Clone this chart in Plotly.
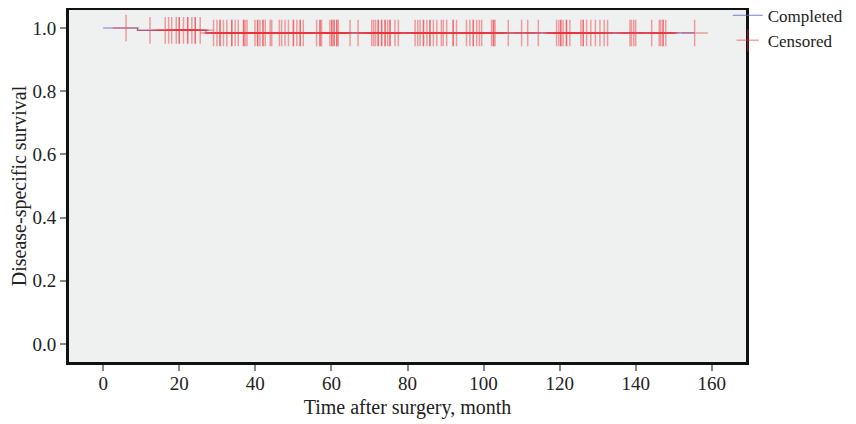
import numpy as np
import plotly.graph_objects as go

# Event (death) times, months
event_times = [9.0, 27.0]
# Censored times, months
censored_times = [
    6.0, 12.3, 16.3, 17.2, 18.0, 19.2, 20.0, 20.0, 21.1, 22.2, 22.2,
    23.3, 24.2, 24.2, 25.5, 29.0, 29.9, 30.7, 30.7, 31.6, 32.5, 33.8, 33.8,
    34.7, 35.5, 36.9, 36.9, 37.3, 37.8, 39.9, 40.6, 40.6, 41.2, 42.0, 42.0,
    42.6, 43.9, 44.3, 46.3, 46.9, 47.8, 48.7, 50.0, 50.0, 50.9, 51.8, 51.8,
    52.6, 56.1, 57.0, 57.0, 57.4, 59.6, 60.1, 60.1, 60.7, 60.7, 61.4, 61.4,
    61.8, 64.9, 67.0, 70.6, 71.1, 71.6, 72.3, 72.3, 73.2, 73.2, 74.1, 74.1,
    74.8, 75.4, 75.4, 76.7, 77.6, 82.0, 82.7, 83.3, 84.2, 84.2, 85.1, 85.9,
    85.9, 86.8, 87.7, 88.9, 89.4, 90.3, 92.0, 92.0, 92.9, 95.5, 96.4, 97.3,
    97.3, 98.2, 98.9, 99.5, 102.1, 102.6, 102.6, 103.0, 106.5, 110.0,
    111.6, 114.4, 119.2, 119.8, 120.3, 120.3, 120.9, 121.8, 121.8, 122.7,
    125.6, 126.2, 126.2, 127.1, 128.2, 129.4, 130.6, 131.7, 132.6,
    138.5, 138.9, 139.5, 140.0, 144.2, 146.2, 146.6, 147.2, 147.2, 147.9,
    155.5,
]

x_ticks = [0, 20, 40, 60, 80, 100, 120, 140, 160]
y_ticks = [0.0, 0.2, 0.4, 0.6, 0.8, 1.0]
y_tick_labels = ["0.0", "0.2", "0.4", "0.6", "0.8", "1.0"]

# Kaplan-Meier estimate
ev = np.array(event_times)
ce = np.array(censored_times)
times_all = np.unique(np.concatenate([[0.0], ev, ce]))
surv = []
s = 1.0
for t in times_all:
    at_risk = np.sum(ev >= t) + np.sum(ce >= t)
    d = np.sum(ev == t)
    if at_risk > 0 and d > 0:
        s *= (1 - d / at_risk)
    surv.append(s)
surv = np.array(surv)

def s_at(t):
    idx = np.searchsorted(times_all, t, side="right") - 1
    return surv[idx]

cens_y = [s_at(t) for t in censored_times]

fig = go.Figure()
fig.add_trace(go.Scatter(
    x=times_all, y=surv, mode="lines", line_shape="hv",
    line=dict(color="rgba(95,105,200,0.85)", width=1.2),
    name="Completed",
))
fig.add_trace(go.Scatter(
    x=censored_times, y=cens_y, mode="markers",
    marker=dict(symbol="cross-thin", size=19,
                line=dict(color="rgba(238,50,55,0.45)", width=1.5)),
    name="Censored",
))

# The page body has an 8px margin, so the figure is sized 848x416 and margins
# are reduced on the left/top accordingly.
font_family = "Liberation Serif, Times New Roman, serif"
fig.update_layout(
    width=848, height=416,
    margin=dict(l=61, r=110, t=2, b=62, autoexpand=False),
    paper_bgcolor="white",
    plot_bgcolor="#eff1f1",
    font=dict(family=font_family, size=19, color="#222"),
    showlegend=True,
    legend=dict(x=0.973, xanchor="left", y=1.035, yanchor="top",
                bgcolor="rgba(0,0,0,0)", font=dict(size=17),
                tracegroupgap=0, itemwidth=30),
    xaxis=dict(range=[-9, 169], tickvals=x_ticks, showgrid=False, zeroline=False,
               showline=True, linecolor="#111", linewidth=3, mirror=True,
               ticks="outside", ticklen=6, tickcolor="#888", tickwidth=1.5,
               ticklabelstandoff=-4,
               title=dict(text="Time after surgery, month", font=dict(size=20), standoff=8)),
    yaxis=dict(range=[-0.057, 1.057], tickvals=y_ticks, ticktext=y_tick_labels,
               showgrid=False, zeroline=False,
               showline=True, linecolor="#111", linewidth=3, mirror=True,
               ticks="outside", ticklen=6, tickcolor="#888", tickwidth=1.5,
               title=dict(text="Disease-specific survival", font=dict(size=20), standoff=6)),
)

fig.write_html("out.html")
